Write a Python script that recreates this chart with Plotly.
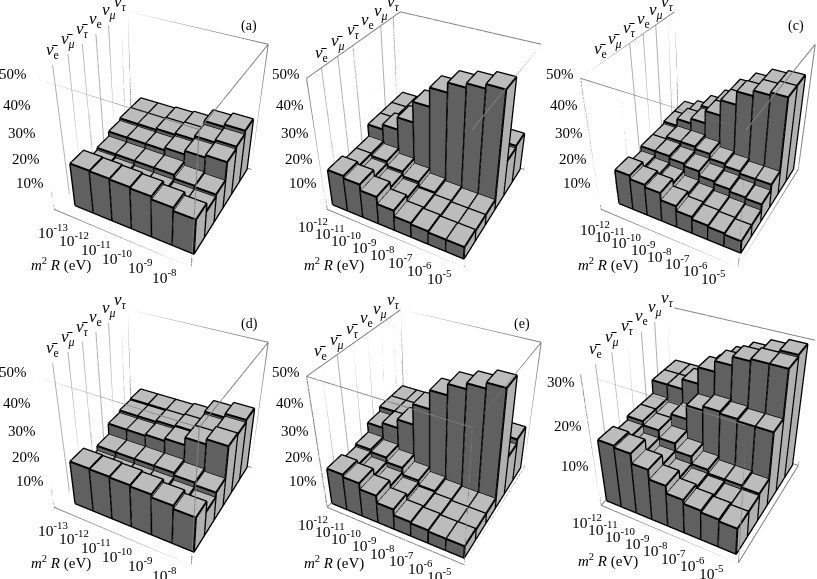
import plotly.graph_objects as go

# etiquetas
flavors = ["<i>ν̄</i><sub>e</sub>", "<i>ν̄</i><sub><i>μ</i></sub>", "<i>ν̄</i><sub><i>τ</i></sub>",
           "<i>ν</i><sub>e</sub>", "<i>ν</i><sub><i>μ</i></sub>", "<i>ν</i><sub><i>τ</i></sub>"]
ticks_short = ["-13", "-12", "-11", "-10", "-9", "-8"]
ticks_long = ["-12", "-11", "-10", "-9", "-8", "-7", "-6", "-5"]

# alturas em %, linhas da frente para o fundo
panel_a = [[18.0, 17.8, 17.5, 17.0, 15.8, 14.5],
           [13.0, 12.5, 12.0, 12.0, 11.0, 11.0],
           [14.0, 14.0, 14.0, 14.0, 12.5, 12.0],
           [16.0, 16.0, 16.0, 17.0, 18.5, 19.5],
           [17.0, 17.0, 17.5, 18.0, 19.5, 20.5],
           [17.0, 17.0, 17.5, 18.0, 21.0, 22.0]]
panel_b = [[15.0, 14.0, 11.5, 8.5, 6.0, 5.5, 5.0, 5.0],
           [13.0, 11.0, 9.0, 7.0, 5.5, 5.0, 4.5, 4.5],
           [13.0, 12.0, 10.0, 8.0, 6.0, 5.0, 4.5, 4.5],
           [18.0, 20.0, 25.0, 33.0, 40.0, 43.5, 45.0, 46.5],
           [18.0, 18.0, 18.0, 17.0, 16.0, 15.0, 15.0, 15.0],
           [18.0, 18.0, 18.0, 18.0, 17.0, 16.0, 16.0, 16.0]]
panel_c = [[14.5, 13.0, 12.0, 9.0, 7.0, 6.0, 5.5, 5.0],
           [12.0, 11.0, 10.0, 8.0, 7.0, 6.0, 5.5, 5.0],
           [14.0, 14.0, 13.0, 12.0, 10.0, 9.0, 8.0, 7.5],
           [14.0, 15.0, 15.0, 14.0, 12.0, 11.0, 10.0, 10.0],
           [15.0, 18.0, 20.0, 25.0, 31.0, 36.0, 38.0, 39.0],
           [15.0, 17.0, 21.0, 25.0, 31.0, 35.0, 38.0, 39.0]]
panel_d = [[18.0, 17.8, 17.5, 17.0, 15.8, 14.5],
           [12.0, 12.0, 12.0, 12.0, 11.0, 10.0],
           [14.0, 14.0, 14.0, 14.0, 13.0, 12.0],
           [18.5, 18.5, 19.0, 20.0, 23.0, 25.0],
           [19.5, 19.5, 20.0, 20.5, 23.0, 24.5],
           [20.0, 20.0, 20.0, 20.5, 24.0, 25.5]]
panel_e = [[15.0, 14.0, 11.5, 8.5, 6.0, 5.5, 5.0, 5.0],
           [13.0, 11.0, 9.0, 7.0, 5.5, 5.0, 4.5, 4.5],
           [14.0, 13.0, 11.0, 8.0, 6.0, 5.0, 4.5, 4.5],
           [18.0, 20.0, 23.5, 31.5, 38.5, 42.5, 44.5, 46.5],
           [20.0, 20.0, 20.0, 19.0, 18.0, 17.0, 16.0, 16.0],
           [20.0, 20.0, 20.0, 20.0, 19.0, 18.0, 18.0, 18.0]]
panel_f = [[16.5, 16.0, 13.5, 11.0, 9.0, 8.0, 7.5, 7.0],
           [15.0, 13.0, 11.0, 9.0, 8.0, 7.5, 7.0, 7.0],
           [16.0, 15.0, 13.0, 11.0, 9.0, 8.0, 8.0, 7.5],
           [16.0, 15.0, 16.0, 19.5, 20.5, 20.0, 19.5, 19.5],
           [19.5, 19.5, 22.0, 26.0, 28.5, 30.5, 31.0, 31.0],
           [19.5, 19.5, 21.0, 24.0, 27.0, 29.0, 30.5, 31.5]]

# paineis: nome, dados, ticks, centro em pixels, zmax, ticks de z, margens (esq, dir, frente)
panels = [
    ("(a)", panel_a, ticks_short, (157, 130), 50, [10, 20, 30, 40, 50], (0.7, 0.2, 0.65)),
    ("(b)", panel_b, ticks_long, (430, 130), 50, [10, 20, 30, 40, 50], (0.05, 0.24, 0.35)),
    ("(c)", panel_c, ticks_long, (704, 130), 50, [10, 20, 30, 40, 50], (0.65, 0.3, 0.7)),
    ("(d)", panel_d, ticks_short, (157, 428), 50, [10, 20, 30, 40, 50], (0.7, 0.2, 0.65)),
    ("(e)", panel_e, ticks_long, (430, 428), 50, [10, 20, 30, 40, 50], (0.05, 0.2, 0.3)),
    ("(f)", panel_f, ticks_long, (704, 426), 32.5, [10, 20, 30], (0.05, 0.34, 0.35)),
]

SHIFT = 100
WIDTH, HEIGHT = 917, 579 + 2 * SHIFT
HALF_H = 223
FONT = "Liberation Serif"

fig = go.Figure()


def box_faces(x0, x1, y0, y1, z1):
    # vertices da barra e triangulos das faces
    xs = [x0, x1, x1, x0, x0, x1, x1, x0]
    ys = [y0, y0, y1, y1, y0, y0, y1, y1]
    zs = [0, 0, 0, 0, z1, z1, z1, z1]
    tris = [(0, 1, 5, "#606060"), (0, 5, 4, "#606060"),   # frente
            (1, 2, 6, "#b0b0b0"), (1, 6, 5, "#b0b0b0"),   # direita
            (4, 5, 6, "#bcbcbc"), (4, 6, 7, "#bcbcbc"),   # topo
            (3, 0, 4, "#808080"), (3, 4, 7, "#808080"),
            (2, 3, 7, "#808080"), (2, 7, 6, "#808080")]
    return xs, ys, zs, tris


def box_edges(x0, x1, y0, y1, z1):
    ex, ey, ez = [], [], []
    base = [(x0, y0), (x1, y0), (x1, y1), (x0, y1), (x0, y0)]
    for z in (0, z1):
        ex += [p[0] for p in base] + [None]
        ey += [p[1] for p in base] + [None]
        ez += [z] * 5 + [None]
    for p in base[:4]:
        ex += [p[0], p[0], None]
        ey += [p[1], p[1], None]
        ez += [0, z1, None]
    return ex, ey, ez


for n, (tag, values, ticks, center, zmax, zticks, margins) in enumerate(panels):
    scene = "scene" if n == 0 else f"scene{n + 1}"
    ncol = len(values[0])
    xmin, xmax = 0.5 - margins[0], ncol + 0.5 + margins[1]
    ymin, ymax = 0.5 - margins[2], 6.6

    # barras
    vx, vy, vz, ii, jj, kk, colors = [], [], [], [], [], [], []
    ex, ey, ez = [], [], []
    for r, row in enumerate(values):
        for c, h in enumerate(row):
            x0, x1 = c + 0.51, c + 1.49
            y0, y1 = r + 0.51, r + 1.49
            xs, ys, zs, tris = box_faces(x0, x1, y0, y1, h)
            off = len(vx)
            vx += xs
            vy += ys
            vz += zs
            for a, b, d, col in tris:
                ii.append(a + off)
                jj.append(b + off)
                kk.append(d + off)
                colors.append(col)
            e = box_edges(x0 - 0.01, x1 + 0.01, y0 - 0.01, y1 + 0.01, h + 0.05)
            ex += e[0]
            ey += e[1]
            ez += e[2]
    fig.add_trace(go.Mesh3d(x=vx, y=vy, z=vz, i=ii, j=jj, k=kk, facecolor=colors, flatshading=True,
                            lighting=dict(ambient=1, diffuse=0, specular=0, fresnel=0, roughness=1),
                            hoverinfo="skip", scene=scene))
    fig.add_trace(go.Scatter3d(x=ex, y=ey, z=ez, mode="lines", line=dict(color="black", width=4),
                               hoverinfo="skip", showlegend=False, scene=scene))

    # caixa e linhas verticais na parede esquerda
    bx, by, bz = box_edges(xmin, xmax, ymin, ymax, zmax)
    fig.add_trace(go.Scatter3d(x=bx, y=by, z=bz, mode="lines", line=dict(color="#808080", width=2),
                               hoverinfo="skip", showlegend=False, scene=scene))
    gx, gy, gz = [], [], []
    for r in range(6):
        gx += [xmin, xmin, None]
        gy += [r + 1, r + 1, None]
        gz += [0, zmax, None]
    fig.add_trace(go.Scatter3d(x=gx, y=gy, z=gz, mode="lines", line=dict(color="#b0b0b0", width=2),
                               hoverinfo="skip", showlegend=False, scene=scene))

    # textos
    notes = []
    for r, label in enumerate(flavors):
        notes.append(dict(x=xmin, y=r + 1, z=zmax, text=label, showarrow=False, yshift=14, font=dict(size=17)))
    for c, t in enumerate(ticks):
        frac = c / (ncol - 1)
        notes.append(dict(x=c + 1, y=ymin, z=0, text=f"10<sup>{t}</sup>", showarrow=False,
                          xshift=-22.5 + 11 * frac, yshift=-12.5 - 3 * frac, font=dict(size=15.5)))
    for z in zticks:
        notes.append(dict(x=xmin, y=ymin, z=z, text=f"{z}%", showarrow=False, xanchor="right",
                          xshift=-5, yshift=4, font=dict(size=15)))
    notes.append(dict(x=xmin, y=ymin, z=0, text="<i>m</i><sup>2</sup> <i>R</i> (eV)", showarrow=False,
                      xshift=7, yshift=-55, font=dict(size=15)))
    notes.append(dict(x=xmax, y=ymax, z=zmax, text=tag, showarrow=False, xshift=-19, yshift=18,
                      font=dict(size=14)))

    cx, cy = center
    half_w = min(cx, 150)
    fig.update_layout({scene: dict(
        domain=dict(x=[(cx - half_w) / WIDTH, (cx + half_w) / WIDTH],
                    y=[1 - (cy + HALF_H + SHIFT) / HEIGHT, 1 - (cy - HALF_H + SHIFT) / HEIGHT]),
        xaxis=dict(visible=False, range=[xmin, xmax]),
        yaxis=dict(visible=False, range=[ymin, ymax]),
        zaxis=dict(visible=False, range=[0, zmax]),
        aspectmode="manual", aspectratio=dict(x=1, y=1, z=1),
        camera=dict(eye=dict(x=1.31, y=-2.42, z=2.02), center=dict(x=0, y=0, z=0), up=dict(x=0, y=0, z=1)),
        annotations=notes,
    )})

fig.update_layout(width=WIDTH, height=HEIGHT, autosize=False, margin=dict(l=0, r=0, t=0, b=0),
                  paper_bgcolor="white", showlegend=False, font=dict(family=FONT, color="black"))

# o desenho e maior que a janela: sobe a pagina para o centro optico ficar certo
fig.write_html("out.html", post_script=(
    "var g=document.getElementById('{plot_id}');g.style.position='relative';"
    f"g.style.top='-{SHIFT}px';document.body.style.margin='0';document.body.style.overflow='hidden';"
))
